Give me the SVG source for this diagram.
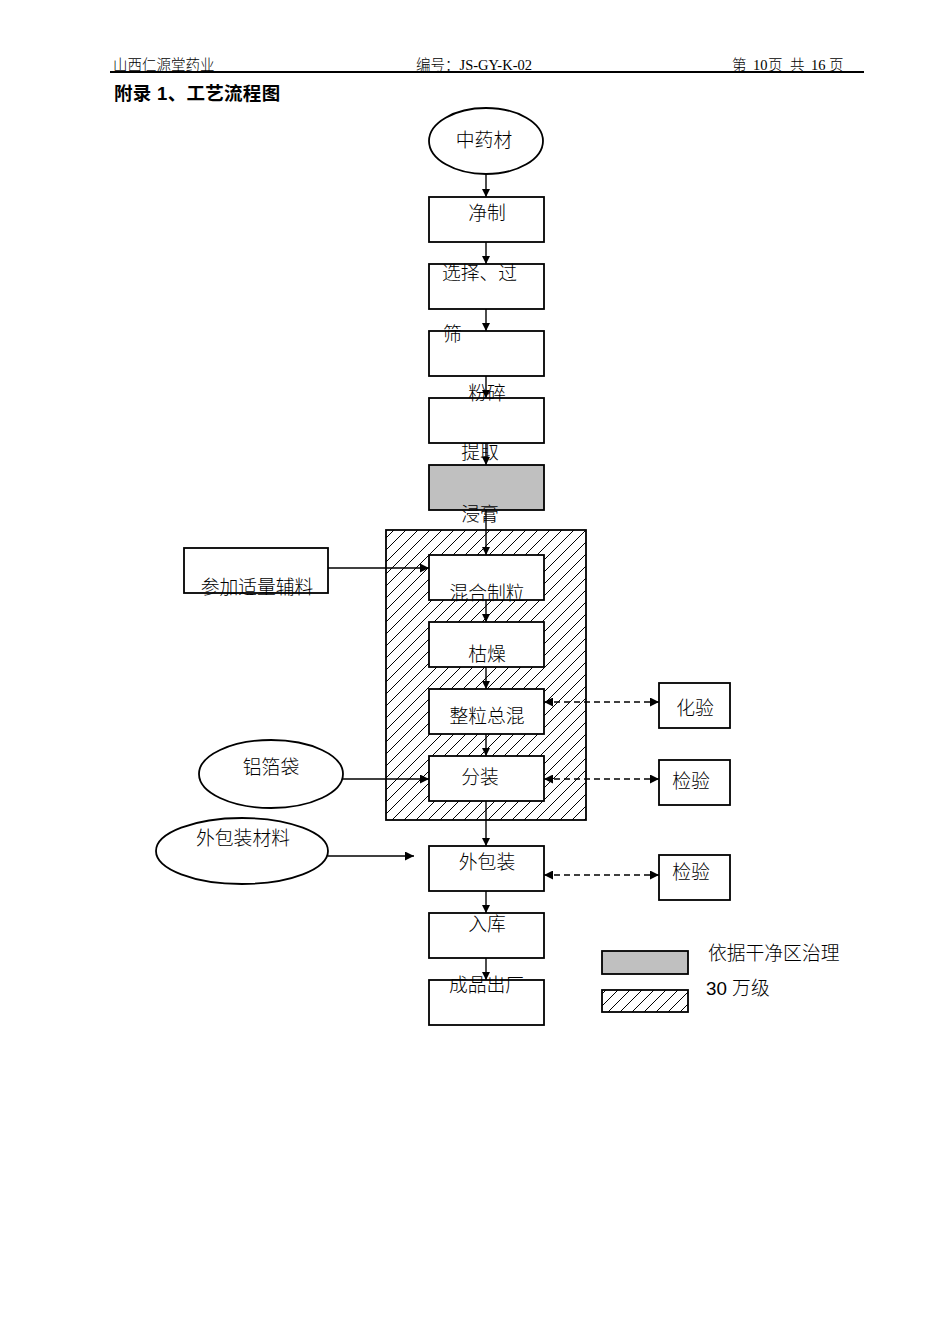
<svg xmlns="http://www.w3.org/2000/svg" width="950" height="1344" viewBox="0 0 950 1344">
<style>
.hd{font-family:"Liberation Serif","Noto Sans CJK SC",serif;font-size:14.5px;fill:#000;font-weight:300}
.t{font-family:"Liberation Sans","Noto Sans CJK SC",sans-serif;font-size:18.8px;fill:#000;font-weight:300}
.ttl{font-family:"Liberation Sans","Noto Sans CJK SC",sans-serif;font-size:18.5px;font-weight:bold;fill:#000;letter-spacing:0.3px}
.box{fill:#fff;stroke:#000;stroke-width:1.8}
.ln{stroke:#000;stroke-width:1.4;fill:none}
.dash{stroke:#000;stroke-width:1.5;fill:none;stroke-dasharray:6,4}
</style>
<defs>
<marker id="ah" viewBox="0 0 10 10" refX="10" refY="5" markerWidth="8" markerHeight="9" orient="auto-start-reverse" markerUnits="userSpaceOnUse">
<path d="M0,0 L10,5 L0,10 z" fill="#000"/>
</marker>
<marker id="ah2" viewBox="0 0 10 10" refX="10" refY="5" markerWidth="10" markerHeight="9" orient="auto-start-reverse" markerUnits="userSpaceOnUse">
<path d="M0,0 L10,5 L0,10 z" fill="#000"/>
</marker>
<pattern id="hatch" patternUnits="userSpaceOnUse" width="12" height="12">
<path d="M-3,3 L3,-3 M0,12 L12,0 M9,15 L15,9" stroke="#000" stroke-width="1"/>
</pattern>
</defs>
<rect width="950" height="1344" fill="#fff"/>

<g id="header">
<text class="hd" x="113" y="70">山西仁源堂药业</text>
<text class="hd" x="416" y="70">编号：JS-GY-K-02</text>
<text class="hd" x="732" y="70">第</text>
<text class="hd" x="753" y="70" font-size="11">10</text>
<text class="hd" x="768" y="70">页</text>
<text class="hd" x="790" y="70">共</text>
<text class="hd" x="811" y="70">16</text>
<text class="hd" x="829" y="70">页</text>
<line x1="110" y1="72" x2="864" y2="72" stroke="#000" stroke-width="2"/>
<text class="ttl" x="114" y="100">附录 1、工艺流程图</text>
</g>

<g id="clean-zone">
<rect x="386" y="530" width="200" height="290" fill="url(#hatch)" stroke="#000" stroke-width="1.8"/>
</g>

<g id="n-zhongyaocai"><ellipse cx="486" cy="141" rx="57" ry="33" class="box"/></g>
<g id="n-jingzhi"><rect x="429" y="197" width="115" height="45" class="box"/></g>
<g id="n-xuanze"><rect x="429" y="264" width="115" height="45" class="box"/></g>
<g id="n-shai"><rect x="429" y="331" width="115" height="45" class="box"/></g>
<g id="n-fensui"><rect x="429" y="398" width="115" height="45" class="box"/></g>
<g id="n-jingao"><rect x="429" y="465" width="115" height="45" fill="#c0c0c0" stroke="#000" stroke-width="1.8"/></g>
<g id="n-fuliao"><rect x="184" y="548" width="144" height="45" class="box"/></g>
<g id="n-hunhe"><rect x="429" y="555" width="115" height="45" class="box"/></g>
<g id="n-kuzao"><rect x="429" y="622" width="115" height="45" class="box"/></g>
<g id="n-zhengli"><rect x="429" y="689" width="115" height="45" class="box"/></g>
<g id="n-fenzhuang"><rect x="429" y="756" width="115" height="45" class="box"/></g>
<g id="n-huayan"><rect x="659" y="683" width="71" height="45" class="box"/></g>
<g id="n-jianyan1"><rect x="659" y="760" width="71" height="45" class="box"/></g>
<g id="n-lvbodai"><ellipse cx="271" cy="774" rx="72" ry="34" class="box" stroke-width="1.4"/></g>
<g id="n-waibaozhuangcailiao"><ellipse cx="242" cy="851" rx="86" ry="33" class="box" stroke-width="1.4"/></g>
<g id="n-waibaozhuang"><rect x="429" y="846" width="115" height="45" class="box"/></g>
<g id="n-jianyan2"><rect x="659" y="855" width="71" height="45" class="box"/></g>
<g id="n-ruku"><rect x="429" y="913" width="115" height="45" class="box"/></g>
<g id="n-chengpin"><rect x="429" y="980" width="115" height="45" class="box"/></g>

<g id="legend">
<rect x="602" y="951" width="86" height="23" fill="#c0c0c0" stroke="#000" stroke-width="1.8"/>
<rect x="602" y="990" width="86" height="22" fill="url(#hatch)" stroke="#000" stroke-width="1.8"/>
</g>

<g id="connectors">
<line x1="486" y1="174" x2="486" y2="197" class="ln" marker-end="url(#ah)"/>
<line x1="486" y1="242" x2="486" y2="264" class="ln" marker-end="url(#ah)"/>
<line x1="486" y1="309" x2="486" y2="331" class="ln" marker-end="url(#ah)"/>
<line x1="486" y1="376" x2="486" y2="398" class="ln" marker-end="url(#ah)"/>
<line x1="486" y1="443" x2="486" y2="465" class="ln" marker-end="url(#ah)"/>
<line x1="486" y1="510" x2="486" y2="555" class="ln" marker-end="url(#ah)"/>
<line x1="486" y1="600" x2="486" y2="622" class="ln" marker-end="url(#ah)"/>
<line x1="486" y1="667" x2="486" y2="689" class="ln" marker-end="url(#ah)"/>
<line x1="486" y1="734" x2="486" y2="756" class="ln" marker-end="url(#ah)"/>
<line x1="486" y1="801" x2="486" y2="846" class="ln" marker-end="url(#ah)"/>
<line x1="486" y1="891" x2="486" y2="913" class="ln" marker-end="url(#ah)"/>
<line x1="486" y1="958" x2="486" y2="980" class="ln" marker-end="url(#ah)"/>
<line x1="328" y1="568" x2="429" y2="568" class="ln" marker-end="url(#ah2)"/>
<line x1="343" y1="779" x2="429" y2="779" class="ln" marker-end="url(#ah2)"/>
<line x1="328" y1="856" x2="414" y2="856" class="ln" marker-end="url(#ah2)"/>
<line x1="544" y1="702" x2="659" y2="702" class="dash" marker-start="url(#ah2)" marker-end="url(#ah2)"/>
<line x1="544" y1="779" x2="659" y2="779" class="dash" marker-start="url(#ah2)" marker-end="url(#ah2)"/>
<line x1="544" y1="875" x2="659" y2="875" class="dash" marker-start="url(#ah2)" marker-end="url(#ah2)"/>
</g>

<g id="labels">
<text class="t" x="484" y="147" text-anchor="middle">中药材</text>
<text class="t" x="487" y="220" text-anchor="middle">净制</text>
<text class="t" x="442" y="280">选择、过</text>
<text class="t" x="443" y="341">筛</text>
<text class="t" x="487" y="400" text-anchor="middle">粉碎</text>
<text class="t" x="480" y="459" text-anchor="middle">提取</text>
<text class="t" x="480" y="521" text-anchor="middle">浸膏</text>
<text class="t" x="257" y="594" text-anchor="middle">参加适量辅料</text>
<text class="t" x="487" y="600" text-anchor="middle">混合制粒</text>
<text class="t" x="487" y="661" text-anchor="middle">枯燥</text>
<text class="t" x="487" y="723" text-anchor="middle">整粒总混</text>
<text class="t" x="480" y="784" text-anchor="middle">分装</text>
<text class="t" x="695" y="715" text-anchor="middle">化验</text>
<text class="t" x="691" y="788" text-anchor="middle">检验</text>
<text class="t" x="271" y="774" text-anchor="middle">铝箔袋</text>
<text class="t" x="243" y="845" text-anchor="middle">外包装材料</text>
<text class="t" x="487" y="869" text-anchor="middle">外包装</text>
<text class="t" x="691" y="879" text-anchor="middle">检验</text>
<text class="t" x="487" y="931" text-anchor="middle">入库</text>
<text class="t" x="449" y="992">成品出厂</text>
<text class="t" x="708" y="960">依据干净区治理</text>
<text class="t" x="706" y="995">30 万级</text>
</g>
</svg>
